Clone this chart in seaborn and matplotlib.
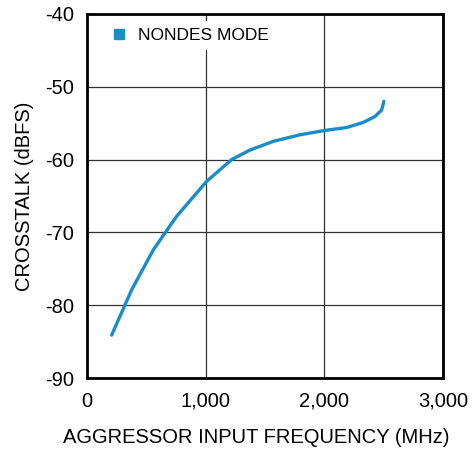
import numpy as np
import pandas as pd
import matplotlib
matplotlib.use('Agg')
import matplotlib.pyplot as plt
import seaborn as sns
from matplotlib.lines import Line2D

# Data
freq_mhz = [208, 376, 559, 755, 1008, 1219, 1373, 1570, 1794, 2005, 2188, 2328, 2426, 2483, 2502]
crosstalk_dbfs = [-84.1, -77.9, -72.4, -67.8, -63.0, -60.0, -58.7, -57.5, -56.6, -56.0, -55.6, -54.9, -54.1, -53.2, -52.0]
series_label = 'NONDES MODE'
x_ticks = [0, 1000, 2000, 3000]
y_ticks = [-90, -80, -70, -60, -50, -40]

df = pd.DataFrame({'freq': freq_mhz, 'xtalk': crosstalk_dbfs})

sns.set_style('white')
plt.rcParams['font.family'] = ['Liberation Sans', 'DejaVu Sans']
plt.rcParams['axes.unicode_minus'] = False
plt.rcParams['text.color'] = 'black'
plt.rcParams['axes.labelcolor'] = 'black'
plt.rcParams['xtick.color'] = 'black'
plt.rcParams['ytick.color'] = 'black'

line_color = '#1a8cc8'

fig = plt.figure(figsize=(4.74, 4.49), dpi=100)
ax = fig.add_axes([0.1835, 0.158, 0.751, 0.811])

sns.lineplot(data=df, x='freq', y='xtalk', ax=ax, color=line_color, linewidth=2.4,
             solid_capstyle='round', sort=False)

ax.set_xlim(0, 3000)
ax.set_ylim(-90, -40)
ax.set_xticks(x_ticks)
ax.set_xticklabels([f'{t:,}' for t in x_ticks])
ax.set_yticks(y_ticks)
ax.grid(True, color='#333333', linewidth=0.9)
ax.set_axisbelow(True)
ax.tick_params(axis='x', labelsize=14.5, length=0, pad=10)
ax.tick_params(axis='y', labelsize=14.5, length=0, pad=9)
for s in ax.spines.values():
    s.set_visible(True)
    s.set_color('black')
    s.set_linewidth(2)

ax.set_xlabel('AGGRESSOR INPUT FREQUENCY (MHz)', fontsize=14.5, labelpad=12)
ax.xaxis.label.set_x(0.475)
ax.set_ylabel('CROSSTALK (dBFS)', fontsize=14.5, labelpad=8)

handle = Line2D([], [], marker='s', linestyle='none', color=line_color, markersize=7)
leg = ax.legend([handle], [series_label], loc='upper left', fontsize=12.5,
                frameon=True, fancybox=False, borderaxespad=0.3,
                handlelength=1.0, handletextpad=0.6, bbox_to_anchor=(0.031, 0.995))
leg.get_frame().set_facecolor('white')
leg.get_frame().set_edgecolor('none')
leg.get_frame().set_alpha(1)

fig.savefig('out.png', dpi=100)
